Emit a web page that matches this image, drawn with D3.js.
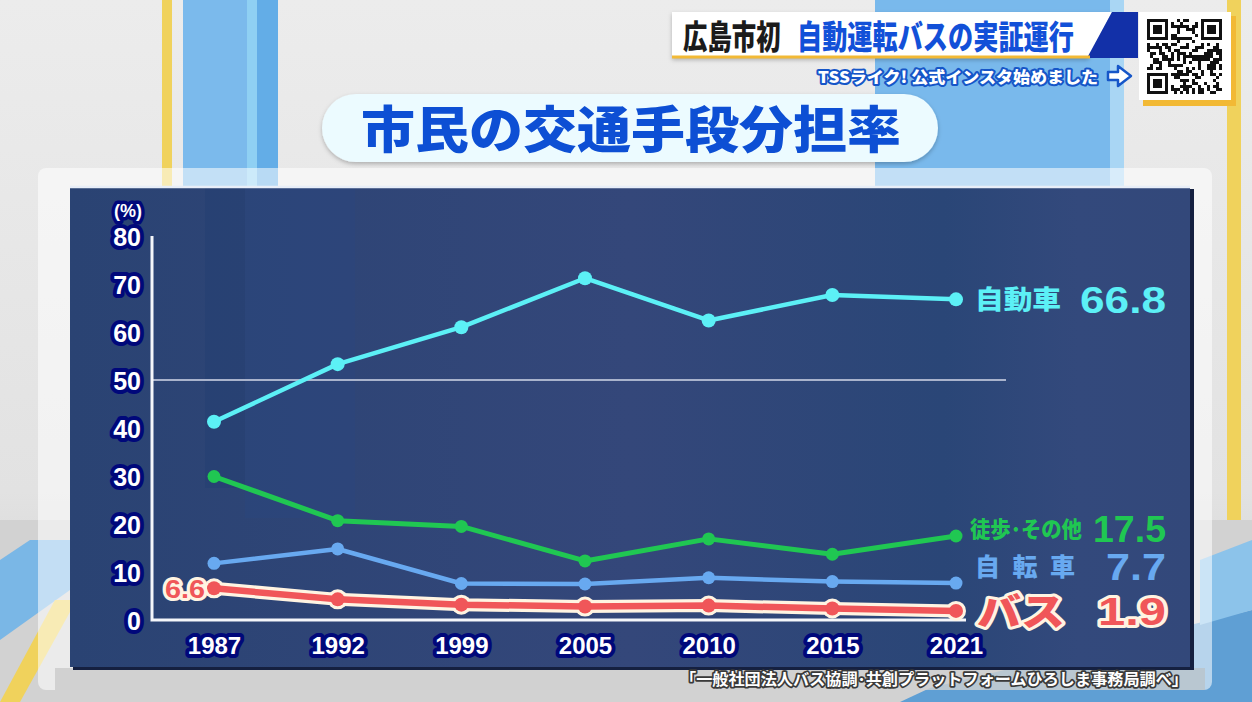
<!DOCTYPE html>
<html><head><meta charset="utf-8">
<script src="https://cdn.jsdelivr.net/npm/d3@7"></script>
<style>
html,body{margin:0;padding:0;background:#e4e4e4;overflow:hidden}
svg{display:block}
text{font-family:"Liberation Sans",Arial,sans-serif}
.jp{font-family:"Noto Sans CJK JP","Noto Sans",sans-serif}
</style></head>
<body>
<svg id="c" width="1252" height="702"></svg>
<script>
// ---------- data ----------
const years = ["1987","1992","1999","2005","2010","2015","2021"];
const carShare  = [41.3, 53.3, 61.0, 71.2, 62.4, 67.7, 66.8];
const walkShare = [29.9, 20.7, 19.5, 12.3, 16.9, 13.7, 17.5];
const bikeShare = [11.8, 14.8, 7.6, 7.5, 8.8, 8.0, 7.7];
const busShare  = [6.6, 4.3, 3.2, 2.8, 3.0, 2.4, 1.9];
const yTicks = [0,10,20,30,40,50,60,70,80];
const seriesNames = ["自動車","徒歩･その他","自転車","バス"];
const lastLabels = ["66.8","17.5","7.7","1.9"];
const firstBusLabel = "6.6";
const titleText = "市民の交通手段分担率";
const headerA = "広島市初";
const headerB = "自動運転バスの実証運行";
const subHeader = "TSSライク! 公式インスタ始めました";
const sourceText = "「一般社団法人バス協調･共創プラットフォームひろしま事務局調べ」";
const unitText = "(%)";

const svg = d3.select("#c");
const defs = svg.append("defs");

// gradients
const bgG = defs.append("linearGradient").attr("id","bgG").attr("x1",0).attr("y1",0).attr("x2",0).attr("y2",1);
bgG.append("stop").attr("offset","0").attr("stop-color","#ececec");
bgG.append("stop").attr("offset","0.7").attr("stop-color","#e2e2e2");
bgG.append("stop").attr("offset","1").attr("stop-color","#cfcfcf");
const pG = defs.append("linearGradient").attr("id","pG").attr("x1",0).attr("y1",0).attr("x2",1).attr("y2",0);
pG.append("stop").attr("offset","0").attr("stop-color","#2a4373");
pG.append("stop").attr("offset","0.5").attr("stop-color","#34477a");
pG.append("stop").attr("offset","0.78").attr("stop-color","#2a4677");
pG.append("stop").attr("offset","0.9").attr("stop-color","#33497c");
pG.append("stop").attr("offset","1").attr("stop-color","#33487a");
const shG = defs.append("filter").attr("id","sh").attr("x","-10%").attr("y","-10%").attr("width","120%").attr("height","130%");
shG.append("feDropShadow").attr("dx",0).attr("dy",2).attr("stdDeviation",2).attr("flood-color","#000").attr("flood-opacity",0.25);

// ---------- background ----------
const bg = svg.append("g");
bg.append("rect").attr("width",1252).attr("height",702).attr("fill","url(#bgG)");
bg.append("rect").attr("x",162).attr("y",0).attr("width",10).attr("height",190).attr("fill","#f0d25c");
bg.append("rect").attr("x",183).attr("y",0).attr("width",64).attr("height",190).attr("fill","#7bbaec");
bg.append("rect").attr("x",247).attr("y",0).attr("width",10).attr("height",190).attr("fill","#8fd0f3");
bg.append("rect").attr("x",257).attr("y",0).attr("width",21).attr("height",190).attr("fill","#63ade7");
bg.append("rect").attr("x",875).attr("y",0).attr("width",235).attr("height",190).attr("fill","#79b9ec");
bg.append("rect").attr("x",1110).attr("y",0).attr("width",14).attr("height",190).attr("fill","#a9d6f4");
bg.append("rect").attr("x",1227).attr("y",0).attr("width",14).attr("height",520).attr("fill","#f0d25c");
bg.append("rect").attr("x",0).attr("y",520).attr("width",1252).attr("height",182).attr("fill","#d2d2d2");
bg.append("polygon").attr("points","0,560 30,540 70,540 70,590 0,640").attr("fill","#7ab7e6");
bg.append("polygon").attr("points","0,702 55,600 70,600 70,612 20,702").attr("fill","#f0d25c");
bg.append("polygon").attr("points","900,702 930,688 1252,610 1252,702").attr("fill","#5f9fd4");
bg.append("polygon").attr("points","1200,560 1252,540 1252,610 1200,625").attr("fill","#8cc3ea");
bg.append("rect").attr("x",38).attr("y",168).attr("width",1174).attr("height",522).attr("rx",8)
  .attr("fill","#ffffff").attr("opacity",0.55);
bg.append("rect").attr("x",55).attr("y",668).attr("width",1150).attr("height",22).attr("fill","#bcbcbc").attr("opacity",0.55);

// ---------- header ----------
const hd = svg.append("g");
hd.append("polygon").attr("points","672,12 1112,12 1088,58 672,58").attr("fill","#ffffff").attr("filter","url(#sh)");
hd.append("polygon").attr("points","1087,58 1112,12 1138,12 1138,58").attr("fill","#1230a8");
hd.append("line").attr("x1",672).attr("x2",1090).attr("y1",57).attr("y2",57).attr("stroke","#f2b935").attr("stroke-width",3);
hd.append("text").attr("class","jp").attr("transform","translate(683,49) scale(0.74,1)").attr("font-size",33).attr("font-weight",900)
  .attr("fill","#1b1b1b").text(headerA);
hd.append("text").attr("class","jp").attr("transform","translate(797,49) scale(0.763,1)").attr("font-size",33).attr("font-weight",900)
  .attr("fill","#1250d8").text(headerB);
hd.append("text").attr("class","jp").attr("x",818).attr("y",83).attr("font-size",16).attr("font-weight",900)
  .attr("fill","#ffffff").attr("stroke","#1656c8").attr("stroke-width",4).attr("paint-order","stroke")
  .attr("stroke-linejoin","round").attr("textLength",280).attr("lengthAdjust","spacingAndGlyphs").text(subHeader);
hd.append("path").attr("d","M1108,72 h10 v-6 l13,10 l-13,10 v-6 h-10 z").attr("fill","#ffffff")
  .attr("stroke","#1656c8").attr("stroke-width",2.5).attr("stroke-linejoin","round");
// QR box
hd.append("rect").attr("x",1143).attr("y",16).attr("width",93).attr("height",90).attr("fill","#f2b935");
hd.append("rect").attr("x",1139).attr("y",12).attr("width",92).attr("height",88).attr("fill","#ffffff");
const qr = hd.append("g").attr("transform","translate(1147,19)");
const N = 25, ms = 3;
function finder(x,y){
  qr.append("rect").attr("x",x*ms).attr("y",y*ms).attr("width",7*ms).attr("height",7*ms).attr("fill","#111");
  qr.append("rect").attr("x",(x+1)*ms).attr("y",(y+1)*ms).attr("width",5*ms).attr("height",5*ms).attr("fill","#fff");
  qr.append("rect").attr("x",(x+2)*ms).attr("y",(y+2)*ms).attr("width",3*ms).attr("height",3*ms).attr("fill","#111");
}
const mods=[];
for(let r=0;r<N;r++)for(let c=0;c<N;c++){
  const inF=(r<8&&c<8)||(r<8&&c>=N-8)||(r>=N-8&&c<8);
  if(inF) continue;
  const h=((r*131+c*197+r*c*37)^(r*7+c*13))%11;
  if(h<5) mods.push([r,c]);
}
qr.selectAll("rect.m").data(mods).enter().append("rect").attr("class","m")
  .attr("x",d=>d[1]*ms).attr("y",d=>d[0]*ms).attr("width",ms).attr("height",ms).attr("fill","#111");
finder(0,0);finder(N-7,0);finder(0,N-7);

// ---------- title ----------
const tg = svg.append("g");
tg.append("rect").attr("x",322).attr("y",94).attr("width",616).attr("height",68).attr("rx",34)
  .attr("fill","#ecfbff").attr("filter","url(#sh)");
tg.append("text").attr("class","jp").attr("x",631).attr("y",148).attr("text-anchor","middle")
  .attr("font-size",50).attr("font-weight",900).attr("fill","#0d4fd4")
  .attr("textLength",540).attr("lengthAdjust","spacingAndGlyphs").text(titleText);

// ---------- panel ----------
const pn = svg.append("g");
pn.append("rect").attr("x",73).attr("y",189).attr("width",1121).attr("height",481).attr("fill","#152040");
pn.append("rect").attr("x",70).attr("y",186).attr("width",1120).attr("height",481).attr("fill","url(#pG)");
pn.append("rect").attr("x",205).attr("y",188).attr("width",40).attr("height",300).attr("fill","#1e3a70").attr("opacity",0.3);
pn.append("rect").attr("x",245).attr("y",188).attr("width",110).attr("height",330).attr("fill","#2050a0").attr("opacity",0.1);
pn.append("line").attr("x1",70).attr("x2",1190).attr("y1",187).attr("y2",187).attr("stroke","#e8eef8").attr("stroke-width",2.5);

// ---------- chart ----------
const x = d3.scalePoint().domain(years).range([214,956]);
const y = d3.scaleLinear().domain([0,80]).range([620,236]);

const ch = svg.append("g");
ch.append("line").attr("x1",152).attr("x2",1006).attr("y1",y(50)).attr("y2",y(50))
  .attr("stroke","#a9b3cc").attr("stroke-width",2);
const outline = (sel,w,c)=>sel.attr("stroke",c).attr("stroke-width",w).attr("paint-order","stroke").attr("stroke-linejoin","round");
const yAxis = d3.axisLeft(y).tickValues(yTicks).tickSize(0).tickPadding(8);
const yg = ch.append("g").attr("transform","translate(152,0)").call(yAxis);
yg.select(".domain").remove();
yg.selectAll("text").attr("font-family","'DejaVu Sans',sans-serif").attr("font-size",25).attr("font-weight",700).attr("fill","#ffffff")
  .attr("dy","0.36em").attr("x",-11).call(outline,8,"#00087a");
const xAxis = d3.axisBottom(x).tickSize(0).tickPadding(0);
const xg = ch.append("g").attr("transform","translate(0,620)").call(xAxis);
xg.select(".domain").remove();
xg.selectAll("text").attr("font-size",24).attr("font-weight",700).attr("fill","#ffffff")
  .attr("y",34).attr("dy",0).call(outline,8,"#00087a");
ch.append("path").attr("d",`M152,${y(80)} V${y(0)} H966`).attr("fill","none").attr("stroke","#f4f6fa").attr("stroke-width",3);
ch.append("text").attr("x",128).attr("y",217).attr("text-anchor","middle").attr("font-size",18).attr("font-weight",700)
  .attr("fill","#fff").call(outline,7,"#00087a").text(unitText);

const line = d3.line().x((d,i)=>x(years[i])).y(d=>y(d));
const series = [
  {vals:carShare, color:"#5cf0f6", r:7, w:4.5},
  {vals:walkShare, color:"#20c752", r:6.5, w:5},
  {vals:bikeShare, color:"#68a9f0", r:6.5, w:4.5}
];
series.forEach(s=>{
  ch.append("path").attr("d",line(s.vals)).attr("fill","none").attr("stroke",s.color).attr("stroke-width",s.w).attr("stroke-linejoin","round");
  ch.selectAll(null).data(s.vals).enter().append("circle")
    .attr("cx",(d,i)=>x(years[i])).attr("cy",d=>y(d)).attr("r",s.r).attr("fill",s.color);
});
ch.append("path").attr("d",line(busShare)).attr("fill","none").attr("stroke","#fff4e2").attr("stroke-width",13).attr("stroke-linejoin","round");
ch.selectAll(null).data(busShare).enter().append("circle")
  .attr("cx",(d,i)=>x(years[i])).attr("cy",d=>y(d)).attr("r",10).attr("fill","#fff4e2");
ch.append("path").attr("d",line(busShare)).attr("fill","none").attr("stroke","#f05659").attr("stroke-width",6.5).attr("stroke-linejoin","round");
ch.selectAll(null).data(busShare).enter().append("circle")
  .attr("cx",(d,i)=>x(years[i])).attr("cy",d=>y(d)).attr("r",7).attr("fill","#f05659");

ch.append("text").attr("x",x(years[0])-9).attr("y",y(busShare[0])+1).attr("dy","0.36em").attr("text-anchor","end")
  .attr("font-size",25).attr("font-weight",700).attr("fill","#f05659").call(outline,6,"#fff4e2")
  .attr("textLength",40).attr("lengthAdjust","spacingAndGlyphs").text(firstBusLabel);

const lx = 975;
function endLabel(name, val, v, color, opt){
  const cy = y(v) + (opt.dyOff||0);
  const t1 = ch.append("text").attr("class","jp").attr("x",opt.nx||lx).attr("y",cy).attr("dy","0.36em")
    .attr("font-size",opt.nfs).attr("font-weight",900).attr("fill",color)
    .attr("textLength",opt.nw).attr("lengthAdjust",opt.spacing?"spacing":"spacingAndGlyphs").text(name);
  const t2 = ch.append("text").attr("x",1166).attr("y",cy).attr("dy","0.36em").attr("text-anchor","end")
    .attr("font-family","'DejaVu Sans',sans-serif")
    .attr("font-size",opt.vfs).attr("font-weight",700).attr("fill",color)
    .attr("textLength",opt.vw).attr("lengthAdjust","spacingAndGlyphs").text(val);
  if(opt.outline){ [t1,t2].forEach(t=>t.call(outline,6,"#fff4e2")); }
}
endLabel(seriesNames[0], lastLabels[0], carShare[6], "#5cf0f6", {nfs:26,nw:86,vfs:37,vw:86,dyOff:0});
endLabel(seriesNames[1], lastLabels[1], walkShare[6], "#20c752", {nx:970,nfs:22,nw:112,vfs:37,vw:73,dyOff:-7});
endLabel(seriesNames[2], lastLabels[2], bikeShare[6], "#68a9f0", {nfs:25,nw:100,vfs:37,vw:60,dyOff:-16,spacing:true});
endLabel(seriesNames[3], lastLabels[3], busShare[6], "#f05659", {nx:977,nfs:38,nw:88,vfs:39,vw:68,dyOff:0,outline:true});

svg.append("text").attr("class","jp").attr("x",1188).attr("y",685).attr("text-anchor","end")
  .attr("font-size",16).attr("font-weight",700).attr("fill","#ffffff").call(outline,3.5,"#3a3a3a")
  .attr("textLength",508).attr("lengthAdjust","spacingAndGlyphs")
  .text(sourceText);
</script>
</body></html>
